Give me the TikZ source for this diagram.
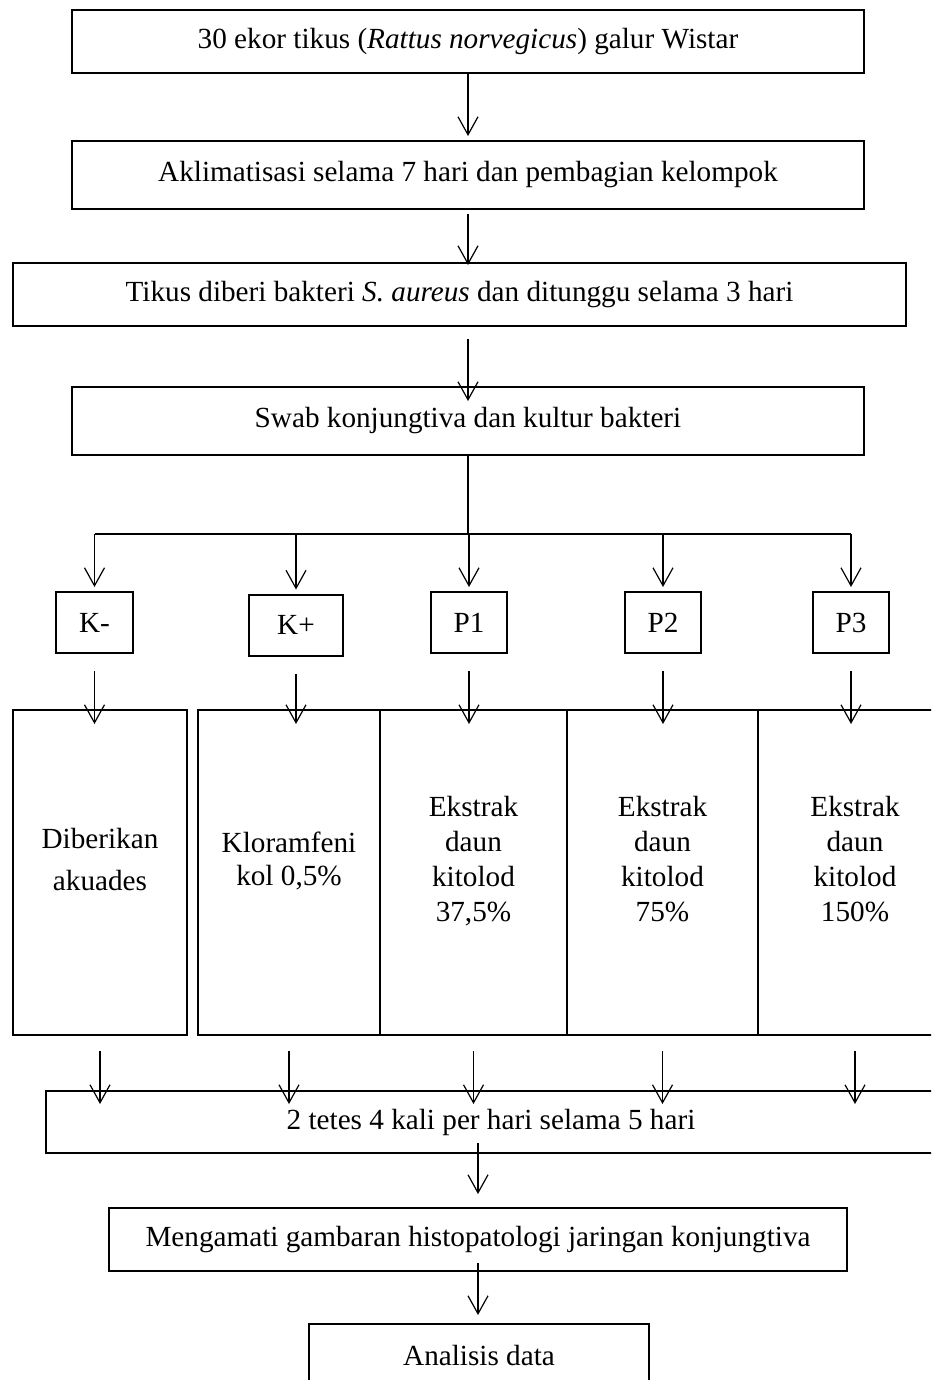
\documentclass[tikz,border=0pt]{standalone}
\usepackage{fontspec}
\setmainfont{Liberation Serif}
\usetikzlibrary{arrows.meta}

\begin{document}
\begin{tikzpicture}[
        x=0.5pt, y=-0.5pt,
        font=\fontsize{14.6}{17.5}\selectfont,
        box/.style={draw, line width=1pt, inner sep=0pt, anchor=center, align=center},
        stepbox/.style={box, minimum width=396pt, minimum height=31.5pt},
        groupbox/.style={box, minimum height=30.5pt},
        dosebox/.style={box, minimum height=162.5pt, text depth=13.5pt},
        arr/.style={-{Straight Barb[length=9pt, width=10pt]}, line width=0.6pt},
        branch/.style={line width=0.9pt}
    ]

    % page frame
    \clip (0,0) rectangle (931,1380);

    % --- Preparation (top) ---
    \node[stepbox] (step1) at (468, 41.5) {30 ekor tikus (\textit{Rattus norvegicus}) galur Wistar};
    \node[stepbox, minimum height=34pt] (step2) at (468, 175) {Aklimatisasi selama 7 hari dan pembagian kelompok};
    \node[stepbox, minimum width=446.5pt] (step3) at (459.5, 294.5) {Tikus diberi bakteri \textit{S. aureus} dan ditunggu selama 3 hari};
    \node[stepbox, minimum height=34pt] (step4) at (468, 421) {Swab konjungtiva dan kultur bakteri};

    \draw[arr, shorten >=2pt] (step1.south) -- (step2.north);
    \draw[arr, shorten <=2pt, shorten >=-1.5pt] (step2.south) -- (step2.south |- step3.north);
    \draw[arr, shorten <=6pt, shorten >=-7.5pt] (step4.north |- step3.south) -- (step4.north);


    % --- Groups ---
    \node[groupbox, minimum width=38.5pt] (kneg) at (94.5, 622.5) {K-};
    \node[groupbox, minimum width=47pt] (kpos) at (296, 625) {K+};
    \node[groupbox, minimum width=38pt] (p1) at (469, 622.5) {P1};
    \node[groupbox, minimum width=38pt] (p2) at (663, 622.5) {P2};
    \node[groupbox, minimum width=38pt] (p3) at (851, 622.5) {P3};

    % Branching
    \coordinate (split) at (468, 534);
    \draw[branch] (step4.south) -- (split);
    \draw[branch] (split -| kneg) -- (split -| p3);
    \foreach \g in {kneg, kpos, p1, p2, p3}
        \draw[arr, shorten >=2pt] (split -| \g) -- (\g.north);


    % --- Treatment columns ---
    \node[dosebox, minimum width=87pt] (kneg_do) at (100, 872.5) {Diberikan\\[3.5pt]akuades};
    \node[dosebox, minimum width=91pt] (kpos_do) at (289, 872.5) {Kloramfeni\\[-1pt]kol 0,5\%};
    \node[dosebox, minimum width=93.5pt] (p1_do) at (473.5, 872.5) {Ekstrak\\daun\\kitolod\\37,5\%};
    \node[dosebox, minimum width=95.5pt] (p2_do) at (662.5, 872.5) {Ekstrak\\daun\\kitolod\\75\%};
    \node[dosebox, minimum width=97pt] (p3_do) at (855, 872.5) {Ekstrak\\daun\\kitolod\\150\%};

    \foreach \g in {kneg, kpos, p1, p2, p3}
        \draw[arr, shorten <=8.5pt, shorten >=-7.5pt] (\g.south) -- (\g.south |- \g_do.north);


    % --- Application and analysis (bottom) ---
    \node[box, minimum width=445pt, minimum height=31pt] (drops) at (491, 1122) {2 tetes 4 kali per hari selama 5 hari};
    \node[box, minimum width=369pt, minimum height=31.5pt] (observe) at (478, 1239.5) {Mengamati gambaran histopatologi jaringan konjungtiva};
    \node[box, minimum width=170pt, minimum height=31pt] (analysis) at (479, 1355) {Analisis data};

    \foreach \g in {kneg, kpos, p1, p2, p3}
        \draw[arr, shorten <=7.5pt, shorten >=-7pt] (\g_do.south) -- (\g_do.south |- drops.north);
    \draw[arr, shorten <=-5.5pt, shorten >=6.5pt] (observe.north |- drops.south) -- (observe.north);
    \draw[arr, shorten <=-4.5pt, shorten >=4pt] (observe.south) -- (observe.south |- analysis.north);

    \end{tikzpicture}
\end{document}
